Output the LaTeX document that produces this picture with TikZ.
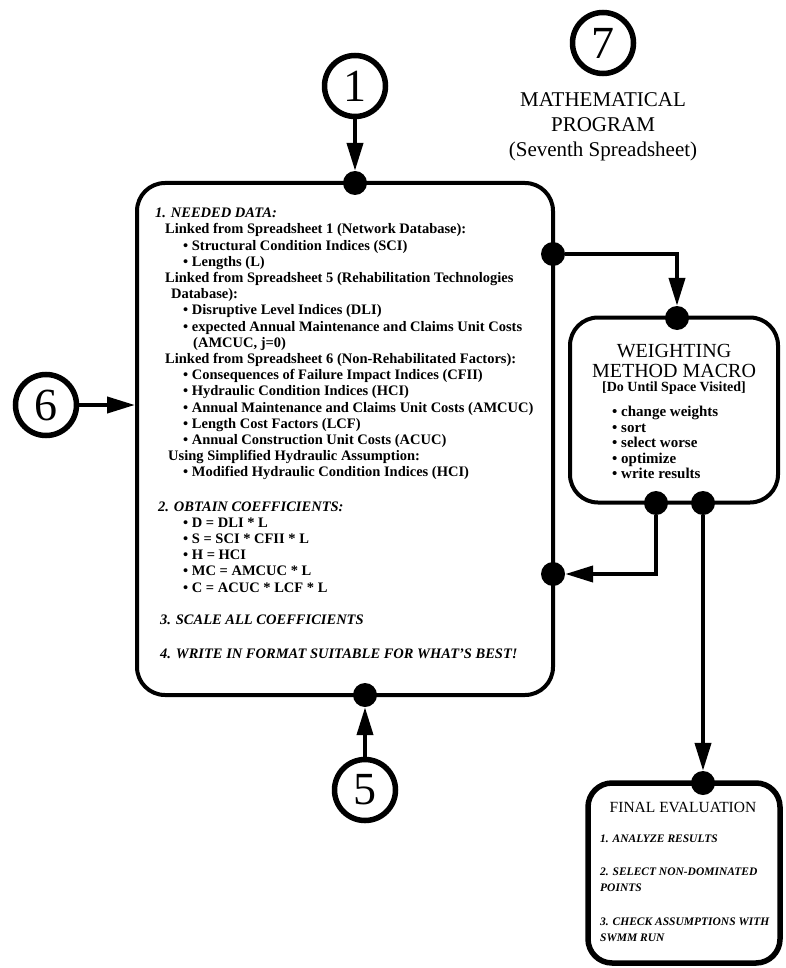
\documentclass[tikz,border=0pt]{standalone}
\usepackage{fontspec}
\setmainfont{Liberation Serif}
\usetikzlibrary{arrows.meta}

\begin{document}
\begin{tikzpicture}[x=1pt,y=-1pt,>={Triangle[length=28pt,width=16pt]},
  numcirc/.style={circle,draw,line width=5.5pt,minimum size=61pt,inner sep=0pt,font=\fontsize{46}{46}\selectfont},
  roundbox/.style={draw,line width=4pt,rounded corners=28pt,inner sep=0pt},
  dot/.style={circle,fill,inner sep=0pt,minimum size=24pt},
  link/.style={line width=4pt},
  bodytext/.style={inner sep=0pt,align=left,font=\bfseries\fontsize{14.5}{16.2}\selectfont}]
  \useasboundingbox (0,0) rectangle (786,968);

  % numbered spreadsheets
  \node[numcirc] (c1) at (355,86) {1};
  \node[numcirc] (c7) at (603,43) {7};
  \node[numcirc] (c6) at (46,405) {6};
  \node[numcirc] (c5) at (365,790) {5};
  \node[font=\fontsize{21}{25}\selectfont,align=center,inner sep=0pt,anchor=north] (title) at (603,92)
    {MATHEMATICAL\\PROGRAM\\(Seventh Spreadsheet)};

  % boxes
  \node[roundbox,minimum width=416pt,minimum height=512pt] (needs) at (345,439) {};
  \node[roundbox,minimum width=208pt,minimum height=185pt] (wmm) at (674,410) {};
  \node[roundbox,line width=5.5pt,rounded corners=24pt,minimum width=192pt,minimum height=180pt] (fin) at (684,873) {};

  \node[bodytext,anchor=north west] (needstext) at (155,208) {%
    \textit{1. NEEDED DATA:}\\
    \hspace*{10pt}Linked from Spreadsheet 1 (Network Database):\\
    \hspace*{28pt}\textbullet\ Structural Condition Indices (SCI)\\
    \hspace*{28pt}\textbullet\ Lengths (L)\\
    \hspace*{10pt}Linked from Spreadsheet 5 (Rehabilitation Technologies\\
    \hspace*{16pt}Database):\\
    \hspace*{28pt}\textbullet\ Disruptive Level Indices (DLI)\\
    \hspace*{28pt}\textbullet\ expected Annual Maintenance and Claims Unit Costs\\
    \hspace*{38pt}(AMCUC, j=0)\\
    \hspace*{10pt}Linked from Spreadsheet 6 (Non-Rehabilitated Factors):\\
    \hspace*{28pt}\textbullet\ Consequences of Failure Impact Indices (CFII)\\
    \hspace*{28pt}\textbullet\ Hydraulic Condition Indices (HCI)\\
    \hspace*{28pt}\textbullet\ Annual Maintenance and Claims Unit Costs (AMCUC)\\
    \hspace*{28pt}\textbullet\ Length Cost Factors (LCF)\\
    \hspace*{28pt}\textbullet\ Annual Construction Unit Costs (ACUC)\\
    \hspace*{13pt}Using Simplified Hydraulic Assumption:\\
    \hspace*{28pt}\textbullet\ Modified Hydraulic Condition Indices (HCI)\\[18pt]
    \hspace*{3pt}\textit{2. OBTAIN COEFFICIENTS:}\\
    \hspace*{28pt}\textbullet\ D = DLI * L\\
    \hspace*{28pt}\textbullet\ S = SCI * CFII * L\\
    \hspace*{28pt}\textbullet\ H = HCI\\
    \hspace*{28pt}\textbullet\ MC = AMCUC * L\\
    \hspace*{28pt}\textbullet\ C = ACUC * LCF * L\\[16pt]
    \hspace*{5pt}\textit{3. SCALE ALL COEFFICIENTS}\\[18pt]
    \hspace*{5pt}\textit{4. WRITE IN FORMAT SUITABLE FOR WHAT'S BEST!}};

  \node[font=\fontsize{20}{20}\selectfont,align=center,inner sep=0pt] (wmmhead) at (674,361) {WEIGHTING\\METHOD MACRO};
  \node[font=\bfseries\fontsize{14}{14}\selectfont,inner sep=0pt] (wmmsub) at (674,388) {[Do Until Space Visited]};
  \node[bodytext,anchor=north west,font=\bfseries\fontsize{15}{15.5}\selectfont] (wmmlist) at (612,406) {%
    \textbullet\ change weights\\
    \textbullet\ sort\\
    \textbullet\ select worse\\
    \textbullet\ optimize\\
    \textbullet\ write results};

  \node[font=\fontsize{15.5}{15.5}\selectfont,inner sep=0pt] (finhead) at (683,807) {FINAL EVALUATION};
  \node[bodytext,anchor=north west,font=\bfseries\itshape\fontsize{11.5}{16}\selectfont] (fintext) at (600,835) {%
    1. ANALYZE RESULTS\\[17pt]
    2. SELECT NON-DOMINATED\\
    POINTS\\[18pt]
    3. CHECK ASSUMPTIONS WITH\\
    SWMM RUN};

  % junction dots
  \node[dot] (dtop) at (355,183) {};
  \node[dot] (dright) at (553,254) {};
  \node[dot] (dback) at (553,574) {};
  \node[dot] (dbot) at (365,695) {};
  \node[dot] (dwin) at (677,318) {};
  \node[dot] (dwl) at (656,503) {};
  \node[dot] (dwr) at (703,503) {};
  \node[dot] (dfin) at (703,783) {};

  % connectors
  \draw[link,->] (c1) -- (dtop);
  \draw[link,->] (c6.east) -- (c6 -| needs.west);
  \draw[link,->] (c5) -- (dbot);
  \draw[link,->] (dright) -| (dwin);
  \draw[link,->] (dwl) |- (dback);
  \draw[link,->] (dwr) -- (dfin);
\end{tikzpicture}
\end{document}
